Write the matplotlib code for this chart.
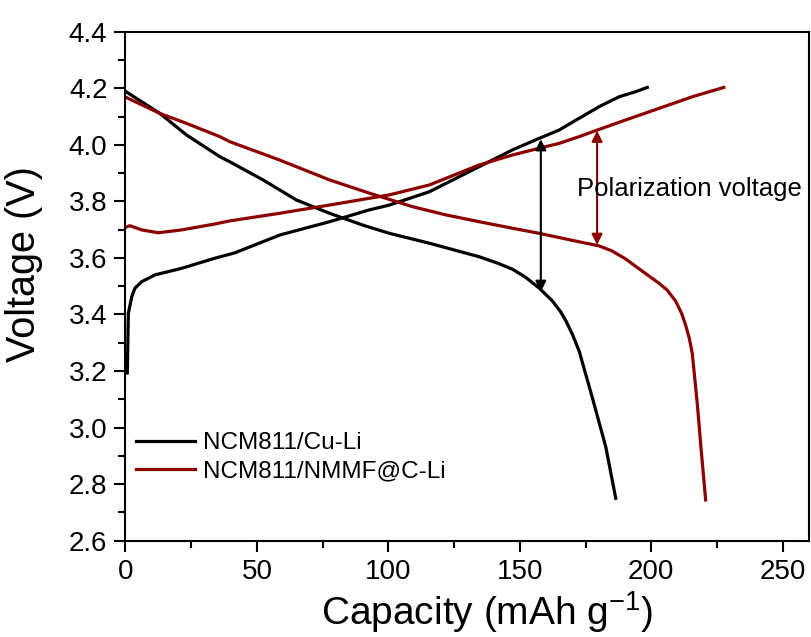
import matplotlib
matplotlib.use("Agg")
import matplotlib.pyplot as plt

plt.rcParams['font.family'] = ['Liberation Sans', 'DejaVu Sans']
plt.rcParams['mathtext.fontset'] = 'custom'
plt.rcParams['mathtext.rm'] = 'Liberation Sans'

# NCM811/Cu-Li charge
cu_charge_x = [0.7, 1.1, 2.4, 3.6, 6.2, 11.2, 21.3, 34, 41.6, 58.7, 77.6, 92.8, 100.4, 115.6,
               134.6, 147.2, 157.4, 164.9, 172.6, 180.2, 187.8, 194.1, 198.5]
cu_charge_y = [3.193, 3.404, 3.463, 3.493, 3.516, 3.54, 3.563, 3.599, 3.618, 3.681, 3.728, 3.77, 3.787, 3.834,
               3.923, 3.982, 4.023, 4.052, 4.094, 4.135, 4.17, 4.188, 4.203]
# NCM811/Cu-Li discharge
cu_dis_x = [0.2, 13.1, 23.2, 35.9, 39.7, 52.3, 65, 77.6, 90.3, 100.4, 115.6, 134.6, 142, 147.2, 152,
            157.4, 162.4, 165.5, 167.5, 170, 172.6, 177.5, 182.7, 186.5]
cu_dis_y = [4.188, 4.111, 4.035, 3.958, 3.94, 3.876, 3.805, 3.758, 3.716, 3.687, 3.652, 3.604, 3.58, 3.56, 3.533,
            3.493, 3.448, 3.41, 3.378, 3.33, 3.27, 3.109, 2.932, 2.75]
# NCM811/NMMF@C-Li charge
c_charge_x = [0, 1.7, 6.2, 12.5, 21.3, 34, 39.7, 58.7, 77.6, 92.8, 100.4, 115.6, 134.6, 147.2,
              157.4, 164.9, 172.6, 177.6, 190.3, 203, 215.6, 227.6]
c_charge_y = [3.708, 3.714, 3.699, 3.689, 3.699, 3.72, 3.731, 3.758, 3.787, 3.811, 3.823, 3.858, 3.929, 3.964,
              3.988, 4.005, 4.029, 4.046, 4.088, 4.129, 4.17, 4.203]
# NCM811/NMMF@C-Li discharge
c_dis_x = [0.2, 13.1, 23.2, 35.9, 39.7, 58.7, 77.6, 92.8, 100.4, 109.3, 122, 134.6, 147.2, 157.4,
           172.6, 180, 185, 190, 195.3, 199, 203, 206, 209.3, 211.5, 213, 214.5, 215.6, 217.5, 219.1, 220.7]
c_dis_y = [4.168, 4.111, 4.076, 4.029, 4.011, 3.946, 3.876, 3.829, 3.807, 3.781, 3.752, 3.728, 3.705, 3.687,
           3.657, 3.643, 3.625, 3.598, 3.562, 3.537, 3.51, 3.487, 3.447, 3.405, 3.365, 3.315, 3.263, 3.086, 2.91, 2.744]

labels = ['NCM811/Cu-Li', 'NCM811/NMMF@C-Li']
red = '#8B0000'

fig = plt.figure(figsize=(8.11, 6.37), dpi=100)
ax = fig.add_axes([0.1547, 0.1512, 0.8428, 0.799])

ax.plot(cu_charge_x, cu_charge_y, color='black', lw=2.3, label=labels[0], solid_joinstyle='round')
ax.plot(cu_dis_x, cu_dis_y, color='black', lw=2.3, solid_joinstyle='round')
ax.plot(c_charge_x, c_charge_y, color=red, lw=2.3, label=labels[1], solid_joinstyle='round')
ax.plot(c_dis_x, c_dis_y, color=red, lw=2.3, solid_joinstyle='round')

ax.annotate('', xy=(158, 3.48), xytext=(158, 4.02),
            arrowprops=dict(arrowstyle='<|-|>', color='black', lw=1.5, mutation_scale=16,
                            shrinkA=0, shrinkB=0))
ax.annotate('', xy=(179.4, 3.646), xytext=(179.4, 4.05),
            arrowprops=dict(arrowstyle='<|-|>', color=red, lw=1.5, mutation_scale=16,
                            shrinkA=0, shrinkB=0))
ax.text(214.5, 3.845, 'Polarization voltage', fontsize=18.5, ha='center', va='center')

ax.set_xlim(0, 260)
ax.set_ylim(2.6, 4.4)
ax.set_xticks([0, 50, 100, 150, 200, 250])
ax.set_xticks([25, 75, 125, 175, 225], minor=True)
yt = [2.6, 2.8, 3.0, 3.2, 3.4, 3.6, 3.8, 4.0, 4.2, 4.4]
ax.set_yticks(yt)
ax.set_yticks([2.7, 2.9, 3.1, 3.3, 3.5, 3.7, 3.9, 4.1, 4.3], minor=True)
ax.set_yticklabels(['%.1f' % v for v in yt])
ax.tick_params(which='major', direction='out', length=8, width=1.5, labelsize=20, pad=5)
ax.tick_params(which='minor', direction='out', length=5, width=1.5)
ax.tick_params(top=False, right=False, which='both')
for s in ax.spines.values():
    s.set_linewidth(1.5)

ax.set_xlabel('Capacity (mAh g$^{\\mathregular{-1}}$)', fontsize=28)
ax.set_ylabel('Voltage (V)', fontsize=28.5)
ax.xaxis.set_label_coords(0.529, -0.095)
ax.yaxis.set_label_coords(-0.12, 0.544)

ax.legend(loc='upper left', bbox_to_anchor=(0.0, 0.235), frameon=False, fontsize=17.5,
          handlelength=2.4, handletextpad=0.35, labelspacing=0.25, borderpad=0, borderaxespad=0.45)

fig.savefig('out.png', dpi=100)
